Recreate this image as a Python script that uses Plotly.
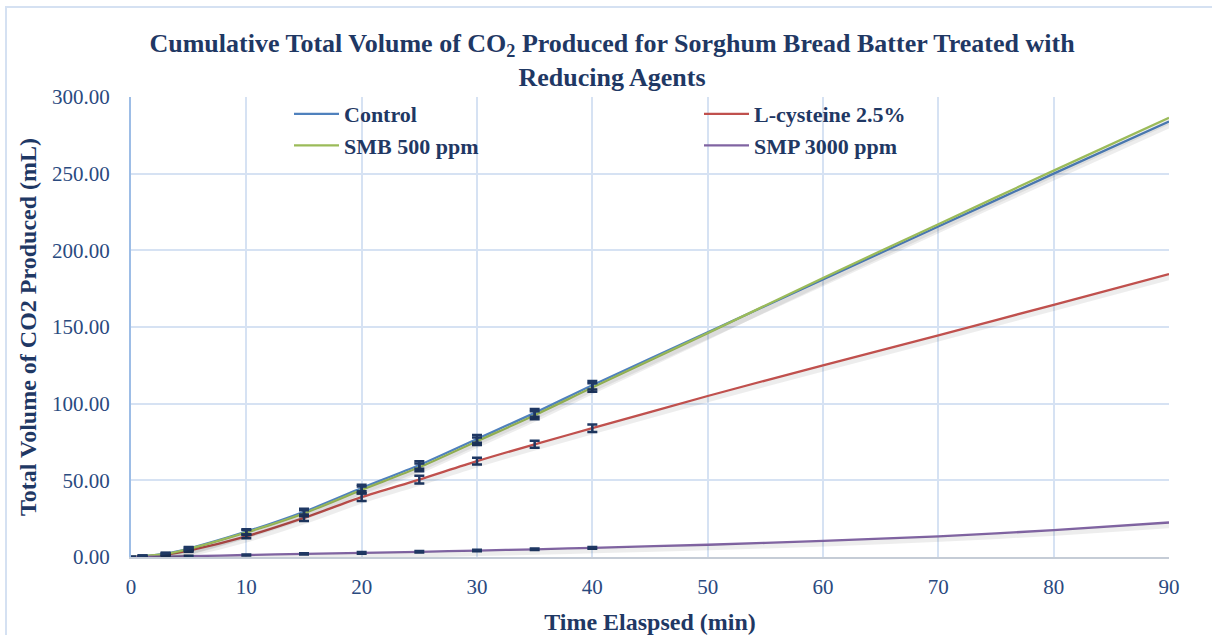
import plotly.graph_objects as go

# ---------------- data ----------------
time_min = [0, 1, 3, 5, 10, 15, 20, 25, 30, 35, 40, 50, 60, 70, 80, 90]
control = [0, 0.5, 2.2, 5.5, 16.5, 29.5, 45.0, 60.0, 77.0, 94.0, 112.0, 146.5, 181.0, 215.5, 250.0, 284.0]
lcys = [0, 0.3, 1.6, 4.2, 13.5, 25.5, 39.0, 50.5, 62.5, 73.5, 84.0, 105.0, 125.0, 144.5, 164.5, 184.5]
smb = [0, 0.5, 2.0, 5.2, 16.0, 28.5, 43.8, 58.5, 75.5, 92.5, 110.5, 146.0, 182.0, 217.0, 252.0, 286.5]
smp = [0, 0.1, 0.3, 0.5, 1.3, 2.0, 2.7, 3.4, 4.2, 5.0, 6.0, 8.0, 10.5, 13.5, 17.5, 22.5]

# measured points (with error bars)
err_time = [0, 1, 3, 5, 10, 15, 20, 25, 30, 35, 40]
control_sd = [0, 0.4, 0.6, 1.0, 1.6, 2.0, 2.2, 2.5, 2.5, 2.6, 2.8]
lcys_sd = [0, 0.3, 0.5, 0.8, 1.3, 2.0, 2.4, 2.5, 2.2, 2.3, 2.4]
smb_sd = [0, 0.4, 0.6, 1.0, 1.6, 2.0, 2.2, 2.5, 2.5, 2.6, 2.8]
smp_sd = [0, 0.1, 0.2, 0.3, 0.4, 0.4, 0.5, 0.5, 0.5, 0.5, 0.6]

series_names = ["Control", "L-cysteine 2.5%", "SMB 500 ppm", "SMP 3000 ppm"]
series_colors = ["#4F81BD", "#C0504D", "#9BBB59", "#8064A2"]

x_ticks = [0, 10, 20, 30, 40, 50, 60, 70, 80, 90]
y_ticks = [0, 50, 100, 150, 200, 250, 300]

# ---------------- styling ----------------
NAVY = "#1F3864"
TICK = "#2A4A7F"
GRID = "#D6E2F3"
SERIF = "Liberation Serif, Times New Roman, serif"

values = [control, lcys, smb, smp]
sds = [control_sd, lcys_sd, smb_sd, smp_sd]

fig = go.Figure()

# soft shadows (same data, drawn through a slightly offset overlay axis)
for vals in values:
    fig.add_trace(go.Scatter(
        x=time_min, y=vals, mode="lines",
        line=dict(color="rgba(0,0,0,0.07)", width=5, shape="spline", smoothing=0.8),
        xaxis="x2", yaxis="y2", showlegend=False, hoverinfo="skip"))

for name, vals, col in zip(series_names, values, series_colors):
    fig.add_trace(go.Scatter(
        x=time_min, y=vals, mode="lines", name=name,
        line=dict(color=col, width=2.3, shape="spline", smoothing=0.8)))

for name, vals, sd in zip(series_names, values, sds):
    n = len(err_time)
    fig.add_trace(go.Scatter(
        x=err_time, y=vals[:n], mode="markers",
        marker=dict(size=1, opacity=0),
        error_y=dict(type="data", array=sd, visible=True, color=NAVY, thickness=2.5, width=5),
        showlegend=False, hoverinfo="skip"))

PX_X = 1038 / 90.0
PX_Y = 460 / 300.0

def px_x(p):
    return (p - 131) / 1038

def px_y(p):
    return (557 - p) / 460

fig.update_layout(
    width=1212, height=635,
    margin=dict(l=131, r=43, t=97, b=78),
    paper_bgcolor="white", plot_bgcolor="white",
    title=dict(
        text="Cumulative Total Volume of CO<sub>2</sub> Produced for Sorghum Bread Batter Treated with<br>Reducing Agents",
        x=0.505, xanchor="center", xref="container",
        y=1 - 52 / 635, yanchor="top", yref="container",
        font=dict(family=SERIF, size=26, color=NAVY, weight="bold")),
    xaxis=dict(
        range=[0, 90], tickvals=x_ticks, showgrid=True, gridcolor=GRID, gridwidth=2,
        zeroline=False, showline=True, linecolor="#C5CCD6", linewidth=2, automargin=False,
        ticks="outside", ticklen=10, tickcolor="rgba(0,0,0,0)",
        tickfont=dict(family=SERIF, size=21, color=TICK),
        title=dict(text="Time Elaspsed (min)", standoff=20,
                   font=dict(family=SERIF, size=24, color=NAVY, weight="bold"))),
    yaxis=dict(
        range=[0, 300], tickvals=y_ticks, tickformat=".2f", showgrid=True, gridcolor=GRID, gridwidth=2,
        zeroline=False, showline=True, linecolor="#9DBDE6", linewidth=2, automargin=False,
        ticks="outside", ticklen=15, tickcolor="rgba(0,0,0,0)",
        tickfont=dict(family=SERIF, size=21, color=TICK),
        title=dict(text="Total Volume of CO2 Produced (mL)", standoff=9,
                   font=dict(family=SERIF, size=24, color=NAVY, weight="bold"))),
    xaxis2=dict(overlaying="x", range=[-2.5 / PX_X, 90 - 2.5 / PX_X], visible=False),
    yaxis2=dict(overlaying="y", range=[3 / PX_Y, 300 + 3 / PX_Y], visible=False),
    legend=dict(
        orientation="h", x=px_x(289), xanchor="left",
        y=px_y(93), yanchor="top",
        bgcolor="rgba(0,0,0,0)", entrywidth=350, entrywidthmode="pixels",
        font=dict(family=SERIF, size=22, color=NAVY, weight="bold"),
        itemwidth=45, tracegroupgap=0),
    shapes=[
        dict(type="rect", xref="paper", yref="paper",
             x0=px_x(6), x1=1.3, y0=-0.5, y1=px_y(7),
             line=dict(color="#D5E1F2", width=2), layer="below"),
        # legend box background (hides gridlines behind the legend, under the data)
        dict(type="rect", xref="paper", yref="paper",
             x0=px_x(288), x1=px_x(1000), y0=px_y(160), y1=px_y(99),
             fillcolor="white", line=dict(width=0), layer="between"),
    ],
    showlegend=True,
)

fig.write_html("out.html")
